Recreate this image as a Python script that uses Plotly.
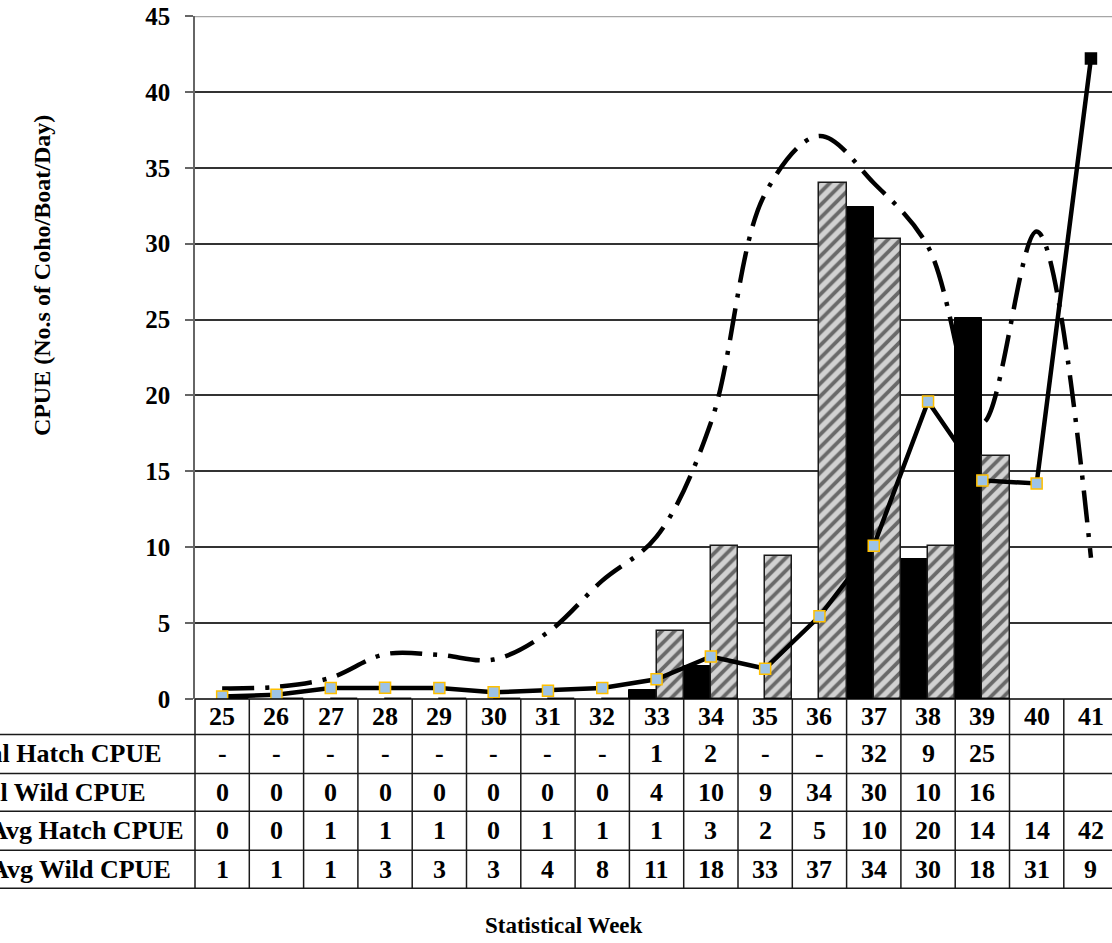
import plotly.graph_objects as go

# ---------------- data ----------------
weeks = list(range(25, 42))
hatch_cpue = [None, None, None, None, None, None, None, None,
              0.6, 2.2, None, None, 32.4, 9.2, 25.1, None, None]
wild_cpue = [0, 0, 0, 0, 0, 0, 0, 0,
             4.45, 10.05, 9.4, 34.0, 30.3, 10.05, 16.0, None, None]
avg_hatch = [0.17, 0.28, 0.73, 0.74, 0.72, 0.44, 0.55, 0.73,
             1.3, 2.8, 2.0, 5.45, 10.1, 19.6, 14.4, 14.2, 42.2]
avg_wild = [0.7, 0.8, 1.4, 2.95, 2.9, 2.6, 4.4, 7.8,
            10.7, 18.2, 33.3, 37.1, 34.0, 29.8, 18.2, 30.8, 9.3]

row_labels = ["Total Hatch CPUE", "Total Wild CPUE",
              "5yr Avg Hatch CPUE", "5yr Avg Wild CPUE"]
row_hatch = ["-", "-", "-", "-", "-", "-", "-", "-", "1", "2", "-", "-", "32", "9", "25", "", ""]
row_wild = ["0", "0", "0", "0", "0", "0", "0", "0", "4", "10", "9", "34", "30", "10", "16", "", ""]
row_avg_hatch = ["0", "0", "1", "1", "1", "0", "1", "1", "1", "3", "2", "5", "10", "20", "14", "14", "42"]
row_avg_wild = ["1", "1", "1", "3", "3", "3", "4", "8", "11", "18", "33", "37", "34", "30", "18", "31", "9"]
table_rows = [row_hatch, row_wild, row_avg_hatch, row_avg_wild]

y_ticks = [0, 5, 10, 15, 20, 25, 30, 35, 40, 45]

# ---------------- layout geometry (pixels) ----------------
W, H = 1112, 943
ML, MR, MT = 195, 0, 15.5
PH = 684
MB = H - MT - PH
PW = W - ML - MR
COLW = 54.3
x_range = [24.5, 24.5 + PW / COLW]

FONT = "Liberation Serif"


def px_x(p):
    return (p - ML) / PW


def px_y(p):
    return (MT + PH - p) / PH


fig = go.Figure()

fig.add_trace(go.Bar(
    x=weeks, y=hatch_cpue, name="Total Hatch CPUE",
    marker=dict(color="#000000", line=dict(color="#000000", width=1)),
))
fig.add_trace(go.Bar(
    x=weeks, y=wild_cpue, name="Total Wild CPUE",
    marker=dict(color="#cfcfcf", line=dict(color="#1a1a1a", width=1.5),
                pattern=dict(shape="/", fgcolor="#000000", bgcolor="#d2d2d2",
                             size=9, solidity=0.42)),
))
fig.add_trace(go.Scatter(
    x=weeks, y=avg_wild, name="Avg Wild CPUE", mode="lines",
    line=dict(color="#000000", width=4.5, dash="32px,11px,4px,11px",
              shape="spline", smoothing=1.0),
))
marker_fill = ["#9DC3E6"] * (len(weeks) - 1) + ["#000000"]
marker_edge = ["#FFC000"] * (len(weeks) - 1) + ["#000000"]
fig.add_trace(go.Scatter(
    x=weeks, y=avg_hatch, name="Avg Hatch CPUE", mode="lines+markers",
    line=dict(color="#000000", width=4.5),
    marker=dict(symbol="square", size=11, color=marker_fill,
                line=dict(color=marker_edge, width=1.5)),
))

shapes = []
# top border line (gray)
shapes.append(dict(type="line", xref="paper", yref="y", x0=0, x1=1, y0=45, y1=45,
                   line=dict(color="#a6a6a6", width=2.5)))
# table horizontal lines
table_top = MT + PH
row_edges = [735, 774, 812, 851, 889]
shapes.append(dict(type="line", xref="paper", yref="paper", x0=0, x1=1.02,
                   y0=px_y(table_top), y1=px_y(table_top),
                   line=dict(color="#000000", width=1.5)))
for ry in row_edges:
    shapes.append(dict(type="line", xref="paper", yref="paper", x0=px_x(-5), x1=1.02,
                       y0=px_y(ry), y1=px_y(ry),
                       line=dict(color="#1a1a1a", width=1.5)))
# table vertical lines
shapes.append(dict(type="line", xref="paper", yref="paper", x0=0, x1=0,
                   y0=px_y(table_top), y1=px_y(row_edges[-1]),
                   line=dict(color="#1a1a1a", width=1.5)))
for w in weeks:
    shapes.append(dict(type="line", xref="x", yref="paper", x0=w + 0.5, x1=w + 0.5,
                       y0=px_y(table_top), y1=px_y(row_edges[-1]),
                       line=dict(color="#1a1a1a", width=1.5)))

annotations = []
cell_font = dict(family=FONT, size=26, color="#000000", weight="bold")
# header row: week numbers
hdr_y = px_y((table_top + row_edges[0]) / 2)
for w in weeks:
    annotations.append(dict(x=w, y=hdr_y, xref="x", yref="paper", text=str(w),
                            showarrow=False, font=cell_font, yanchor="middle"))
# data rows
label_right = [164, 148, 186, 173]
for i, (lab, vals) in enumerate(zip(row_labels, table_rows)):
    cy = px_y((row_edges[i] + row_edges[i + 1]) / 2)
    annotations.append(dict(x=px_x(label_right[i]), y=cy, xref="paper", yref="paper",
                            text=lab, showarrow=False, xanchor="right", yanchor="middle",
                            font=dict(family=FONT, size=26, color="#000000", weight="bold")))
    for w, t in zip(weeks, vals):
        if t:
            annotations.append(dict(x=w, y=cy, xref="x", yref="paper", text=t,
                                    showarrow=False, font=cell_font, yanchor="middle"))
# axis titles
annotations.append(dict(x=px_x(27), y=px_y(276), xref="paper", yref="paper",
                        text="CPUE (No.s of Coho/Boat/Day)", textangle=-90, showarrow=False,
                        font=dict(family=FONT, size=24, color="#000000", weight="bold")))
annotations.append(dict(x=px_x(564), y=px_y(926), xref="paper", yref="paper",
                        text="Statistical Week", showarrow=False, yanchor="middle",
                        font=dict(family=FONT, size=23, color="#000000", weight="bold")))

fig.update_layout(
    width=W, height=H,
    margin=dict(l=ML, r=MR, t=MT, b=MB, autoexpand=False),
    paper_bgcolor="white", plot_bgcolor="white",
    barmode="group", bargap=0, bargroupgap=0,
    showlegend=False,
    shapes=shapes, annotations=annotations,
    xaxis=dict(range=x_range, showticklabels=False, showgrid=False, zeroline=False,
               showline=False, ticks="", automargin=False, fixedrange=True),
    yaxis=dict(range=[0, 45], tickvals=y_ticks, showgrid=True, gridcolor="#333333",
               gridwidth=1.5, zeroline=False, showline=True, linecolor="#666666",
               linewidth=1.5, ticks="outside", ticklen=8, tickcolor="#666666",
               tickwidth=1.5, ticklabelstandoff=10, automargin=False, fixedrange=True,
               tickfont=dict(family=FONT, size=25, color="#000000", weight="bold")),
)

fig.write_html("out.html", config={"displayModeBar": False},
               post_script="document.body.style.margin='0px';")
